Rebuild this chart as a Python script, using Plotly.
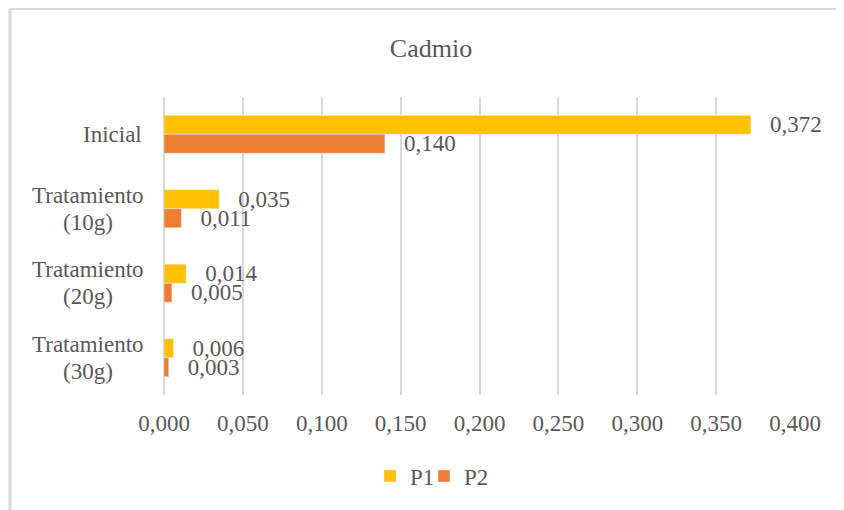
import plotly.graph_objects as go

categories = ["Inicial", "Tratamiento (10g)", "Tratamiento (20g)", "Tratamiento (30g)"]
tick_labels = ["Inicial", "Tratamiento<br>(10g)", "Tratamiento<br>(20g)", "Tratamiento<br>(30g)"]
p1 = [0.372, 0.035, 0.014, 0.006]
p2 = [0.140, 0.011, 0.005, 0.003]

font_family = "Liberation Serif, Times New Roman, serif"
grey = "#595959"
label_fmt = "\u00a0\u00a0\u2009%{x:.3f}"
line_gap = 27  # px between the two lines of a category label

fig = go.Figure()

fig.add_trace(go.Bar(
    y=categories, x=p1, name="P1", orientation="h",
    marker=dict(color="#FFC000"),
    texttemplate=label_fmt, textposition="outside",
    textfont=dict(family=font_family, size=23, color=grey),
    cliponaxis=False, constraintext="none",
    legendwidth=9
))

fig.add_trace(go.Bar(
    y=categories, x=p2, name="P2", orientation="h",
    marker=dict(color="#ED7D31"),
    texttemplate=label_fmt, textposition="outside",
    textfont=dict(family=font_family, size=23, color=grey),
    cliponaxis=False, constraintext="none",
    legendwidth=40
))

# category labels: right-aligned blocks, lines centred, tighter spacing than <br>
label_right = (136 - 156) / 631
label_centre = (80 - 156) / 631
for cat, lab in zip(categories, tick_labels):
    lines = lab.split("<br>")
    for i, line in enumerate(lines):
        shift = ((len(lines) - 1) / 2 - i) * line_gap
        if len(lines) == 1:
            pos, anchor = label_right, "right"
        else:
            pos, anchor = label_centre, "center"
        fig.add_annotation(
            x=pos, xref="paper", xanchor=anchor,
            y=cat, yref="y", yanchor="middle", yshift=shift,
            text=line, showarrow=False,
            font=dict(family=font_family, size=23, color=grey)
        )

# chart border (only top and left edges visible in the crop)
x_left = (2 - 156) / 631
y_top = (387 - 0.5) / 298
fig.add_shape(type="line", xref="paper", yref="paper",
              x0=x_left, x1=1.2, y0=y_top, y1=y_top,
              line=dict(color="#D9D9D9", width=3))
fig.add_shape(type="line", xref="paper", yref="paper",
              x0=x_left, x1=x_left, y0=y_top, y1=-0.5,
              line=dict(color="#D9D9D9", width=3))

fig.update_layout(
    width=844, height=510,
    margin=dict(l=156, r=57, t=89, b=123),
    paper_bgcolor="white", plot_bgcolor="white",
    separators=",.",
    barmode="group", bargap=0.49, bargroupgap=0,
    font=dict(family=font_family, color=grey),
    title=dict(text="Cadmio", x=423 / 844, xref="container", xanchor="center",
               y=1 - 40 / 510, yref="container", yanchor="middle",
               font=dict(family=font_family, size=26, color=grey)),
    legend=dict(orientation="h", xref="container", x=362 / 844, xanchor="left",
                yref="container", y=1 - 468 / 510, yanchor="middle",
                font=dict(family=font_family, size=23, color=grey),
                tracegroupgap=0),
    showlegend=True,
)

fig.update_xaxes(
    range=[0, 0.4], dtick=0.05, tickformat=".3f",
    showgrid=True, gridcolor="#D9D9D9", gridwidth=1.5,
    zeroline=True, zerolinecolor="#D9D9D9", zerolinewidth=1.5,
    showline=False,
    ticks="outside", ticklen=7, tickcolor="rgba(0,0,0,0)",
    tickfont=dict(family=font_family, size=23, color=grey)
)

fig.update_yaxes(
    autorange="reversed", showticklabels=False,
    showgrid=False, showline=False, ticks=""
)

fig.write_html("out.html")
